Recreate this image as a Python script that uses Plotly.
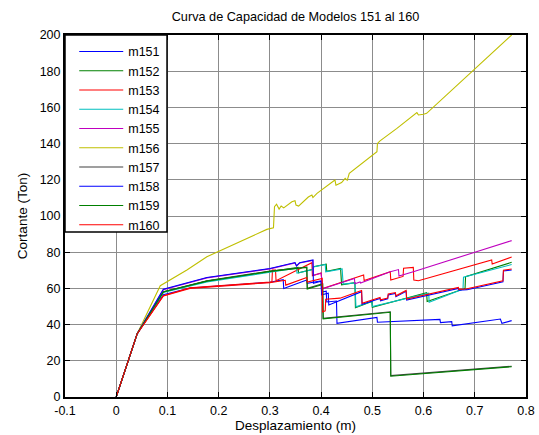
import plotly.graph_objects as go

# Capacity curves (base shear vs roof displacement) for models 151-160
names = ["m151", "m152", "m153", "m154", "m155", "m156", "m157", "m158", "m159", "m160"]

m151_x = [0, 0.041, 0.092, 0.144, 0.300, 0.326, 0.327, 0.372, 0.373, 0.400, 0.401, 0.410, 0.411,
          0.430, 0.431, 0.509, 0.510, 0.632, 0.633, 0.655, 0.656, 0.750, 0.753, 0.772]
m151_y = [0, 35, 56.5, 60.2, 63.4, 64.8, 60.0, 64.6, 62.8, 64.2, 58.0, 58.5, 52.5,
          53.0, 40.7, 44.0, 41.3, 42.9, 41.1, 41.6, 39.3, 43.1, 40.7, 42.2]

m152_x = [0, 0.041, 0.092, 0.177, 0.300, 0.355, 0.356, 0.384, 0.385, 0.410, 0.411, 0.438, 0.440,
          0.466, 0.467, 0.499, 0.500, 0.606, 0.607, 0.681, 0.682, 0.772]
m152_y = [0, 35, 58.0, 64.0, 69.3, 71.6, 68.6, 70.6, 72.0, 73.4, 69.4, 71.0, 62.0,
          63.2, 49.3, 52.7, 49.6, 57.6, 52.7, 60.0, 66.5, 74.4]

m153_x = [0, 0.041, 0.092, 0.144, 0.300, 0.304, 0.305, 0.311, 0.312, 0.382, 0.383, 0.400, 0.403,
          0.483, 0.484, 0.535, 0.536, 0.560, 0.561, 0.580, 0.581, 0.590, 0.733, 0.734, 0.772]
m153_y = [0, 35, 56.0, 60.4, 63.5, 63.7, 70.2, 70.2, 64.3, 74.2, 67.0, 68.5, 60.0,
          67.4, 64.4, 69.2, 64.6, 66.6, 71.1, 71.6, 64.6, 64.2, 75.7, 73.5, 77.3]

m154_x = [0, 0.041, 0.092, 0.177, 0.300, 0.352, 0.353, 0.384, 0.385, 0.408, 0.409, 0.441, 0.443,
          0.466, 0.468, 0.499, 0.500, 0.610, 0.611, 0.677, 0.678, 0.772]
m154_y = [0, 35, 57.8, 63.6, 68.9, 71.2, 68.4, 70.4, 71.8, 73.2, 69.2, 70.8, 62.4,
          63.0, 49.8, 52.9, 50.0, 57.4, 52.4, 59.6, 66.2, 73.2]

m155_x = [0, 0.041, 0.092, 0.177, 0.300, 0.349, 0.352, 0.358, 0.384, 0.385, 0.400, 0.403,
          0.465, 0.466, 0.476, 0.477, 0.535, 0.551, 0.552, 0.580, 0.697, 0.772]
m155_y = [0, 35, 59.3, 65.8, 70.8, 74.1, 72.3, 74.0, 75.5, 67.2, 68.4, 59.8,
          65.5, 62.6, 63.6, 63.0, 69.2, 70.4, 66.8, 69.2, 79.7, 86.4]

m156_x = [0, 0.041, 0.086, 0.138, 0.177, 0.294, 0.307, 0.309, 0.313, 0.318, 0.322, 0.327, 0.343,
          0.349, 0.351, 0.356, 0.375, 0.382, 0.384, 0.392, 0.427, 0.429, 0.440, 0.447, 0.451,
          0.455, 0.509, 0.510, 0.515, 0.548, 0.587, 0.590, 0.600, 0.606, 0.772]
m156_y = [0, 35, 61.5, 70.2, 77.5, 92.6, 93.5, 105.1, 106.5, 103.8, 105.5, 104.5, 107.9,
          108.5, 106.0, 105.5, 110.5, 111.6, 110.2, 112.5, 119.9, 117.0, 118.5, 120.8, 119.7,
          123.6, 135.5, 140.1, 141.5, 148.4, 157.1, 155.8, 156.2, 156.7, 200.0]

m157_x = [0, 0.041, 0.092, 0.177, 0.300, 0.372, 0.373, 0.390, 0.403, 0.404, 0.535, 0.536, 0.772]
m157_y = [0, 35, 58.2, 64.2, 69.6, 71.8, 60.0, 61.6, 62.6, 43.5, 47.1, 11.8, 17.0]

m158_x = [0, 0.041, 0.092, 0.177, 0.300, 0.349, 0.352, 0.358, 0.384, 0.385, 0.400, 0.401, 0.414,
          0.415, 0.479, 0.480, 0.515, 0.516, 0.530, 0.531, 0.545, 0.546, 0.566, 0.567, 0.668,
          0.669, 0.685, 0.755, 0.756, 0.772]
m158_y = [0, 35, 59.5, 66.0, 71.0, 74.3, 72.5, 74.2, 75.7, 62.8, 64.0, 56.5, 57.3,
          50.8, 58.2, 51.2, 54.5, 53.2, 54.2, 56.4, 57.2, 55.4, 58.4, 53.6, 60.0,
          59.0, 59.3, 63.7, 69.6, 70.2]

m159_x = [0, 0.041, 0.092, 0.177, 0.300, 0.372, 0.373, 0.390, 0.403, 0.404, 0.535, 0.536, 0.772]
m159_y = [0, 35, 58.0, 64.0, 69.4, 71.6, 59.6, 61.2, 62.2, 43.2, 46.8, 11.5, 16.7]

m160_x = [0, 0.041, 0.092, 0.144, 0.300, 0.330, 0.331, 0.372, 0.373, 0.402, 0.403, 0.408, 0.409,
          0.437, 0.479, 0.480, 0.515, 0.516, 0.530, 0.531, 0.545, 0.546, 0.566, 0.567, 0.668,
          0.669, 0.685, 0.755, 0.756, 0.772]
m160_y = [0, 35, 55.8, 60.0, 63.2, 64.5, 61.8, 66.0, 63.5, 65.5, 47.0, 47.6, 54.0,
          54.6, 58.8, 51.8, 55.0, 53.7, 54.7, 56.9, 57.7, 55.9, 58.9, 54.1, 60.5,
          59.5, 59.8, 64.2, 70.1, 70.7]

x_ticks = [-0.1, 0, 0.1, 0.2, 0.3, 0.4, 0.5, 0.6, 0.7, 0.8]
x_tick_text = ["-0.1", "0", "0.1", "0.2", "0.3", "0.4", "0.5", "0.6", "0.7", "0.8"]
y_ticks = [0, 20, 40, 60, 80, 100, 120, 140, 160, 180, 200]

series_x = [m151_x, m152_x, m153_x, m154_x, m155_x, m156_x, m157_x, m158_x, m159_x, m160_x]
series_y = [m151_y, m152_y, m153_y, m154_y, m155_y, m156_y, m157_y, m158_y, m159_y, m160_y]
colors = ["rgb(0,0,255)", "rgb(0,128,0)", "rgb(255,0,0)", "rgb(0,191,191)", "rgb(191,0,191)",
          "rgb(191,191,0)", "rgb(64,64,64)", "rgb(0,0,255)", "rgb(0,128,0)", "rgb(255,0,0)"]

fig = go.Figure()
for name, xs, ys, c in zip(names, series_x, series_y, colors):
    fig.add_trace(go.Scatter(x=xs, y=ys, mode="lines", name=name,
                             line=dict(color=c, width=1.1)))

FONT = "Liberation Sans, Arial, sans-serif"
axis_common = dict(showline=True, linecolor="black", linewidth=2, mirror="allticks",
                   ticks="inside", ticklen=5, tickcolor="black", tickwidth=1,
                   showgrid=True, gridcolor="rgb(140,140,140)", gridwidth=1,
                   zeroline=False, automargin=False,
                   tickfont=dict(size=12.5, family=FONT, color="black"))

fig.update_layout(
    width=539, height=435,
    margin=dict(l=65, r=13, t=35, b=38),
    paper_bgcolor="white", plot_bgcolor="white",
    font=dict(family=FONT, size=12.5, color="black"),
    title=dict(text="Curva de Capacidad de Modelos 151 al 160", x=0.5, xref="paper",
               y=1 - 17 / 435, yref="container", yanchor="middle", automargin=False,
               font=dict(size=12.7, family=FONT, color="black")),
    xaxis=dict(range=[-0.1, 0.8], tickvals=x_ticks, ticktext=x_tick_text,
               ticklabelstandoff=1,
               title=dict(text="Desplazamiento (m)", standoff=1,
                          font=dict(size=13.5, family=FONT)), **axis_common),
    yaxis=dict(range=[0, 200], tickvals=y_ticks,
               title=dict(text="Cortante (Ton)", standoff=9,
                          font=dict(size=13.5, family=FONT)), **axis_common),
    legend=dict(x=0.02, y=0.995, xanchor="left", yanchor="top",
                bgcolor="rgba(0,0,0,0)", borderwidth=0, itemwidth=44,
                tracegroupgap=0, font=dict(size=12.5, family=FONT, color="black")),
    shapes=[dict(type="rect", xref="paper", yref="paper", x0=0, x1=0.2213, y0=0.456, y1=1.0,
                 fillcolor="white", line=dict(color="black", width=1.5), layer="above")],
)

fig.write_html("out.html")
